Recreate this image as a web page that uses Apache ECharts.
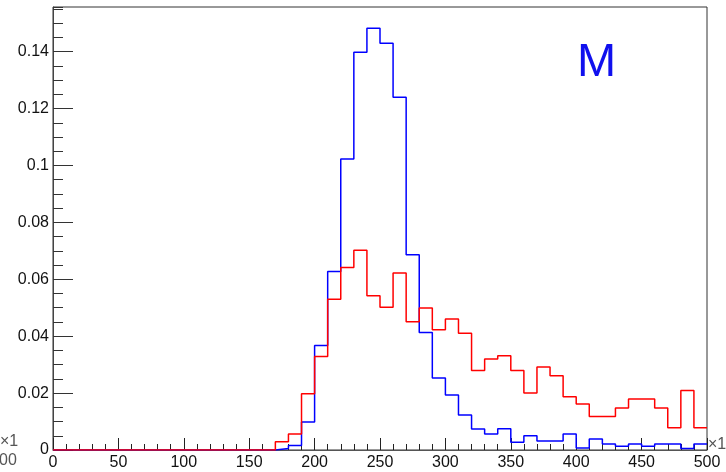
<!DOCTYPE html>
<html>
<head>
<meta charset="utf-8">
<script src="https://cdn.jsdelivr.net/npm/echarts@6/dist/echarts.min.js"></script>
<style>html,body{margin:0;padding:0;background:#fff}#c{width:726px;height:472px}</style>
</head>
<body>
<div id="c"></div>
<script>
// bin edges (x), 10-wide bins from 0 to 500
const binEdges = [0,10,20,30,40,50,60,70,80,90,100,110,120,130,140,150,160,170,180,190,200,
  210,220,230,240,250,260,270,280,290,300,310,320,330,340,350,360,370,380,390,400,
  410,420,430,440,450,460,470,480,490,500];
// blue histogram contents, one per bin
const blueValues = [0,0,0,0,0,0,0,0,0,0,0,0,0,0,0,0,0,
  0.0005,0.0016,0.0098,0.0367,0.0627,0.1023,0.1398,0.1482,0.1430,0.1240,
  0.0686,0.0413,0.0253,0.0193,0.0123,0.0074,0.0056,0.0075,0.0027,0.0050,
  0.0032,0.0032,0.0056,0.0007,0.0039,0.0021,0.0013,0.0021,0.0013,0.0021,
  0.0021,0.0005,0.0021];
// red histogram contents, one per bin
const redValues = [0,0,0,0,0,0,0,0,0,0,0,0,0,0,0,0,0,
  0.0029,0.0056,0.0198,0.0329,0.0530,0.0641,0.0702,0.0542,0.0502,0.0622,
  0.0451,0.0499,0.0423,0.0460,0.0410,0.0279,0.0320,0.0331,0.0279,0.0200,
  0.0292,0.0261,0.0187,0.0162,0.0118,0.0118,0.0148,0.0179,0.0179,0.0148,
  0.0078,0.0209,0.0078];
const panelLabel = 'M';

function stepData(vals) {
  return binEdges.map((e, i) => [e, vals[Math.min(i, vals.length - 1)]]);
}

const chart = echarts.init(document.getElementById('c'), null, {renderer: 'canvas'});
const axisColor = '#444';
const labelFont = {fontFamily: 'Liberation Sans, Arial, sans-serif', fontSize: 16, color: '#111'};
const YMAX = 0.1557;
chart.setOption({
  animation: false,
  backgroundColor: '#fff',
  grid: {left: 53, right: 19, top: 7, bottom: 22, show: true, borderColor: '#333', borderWidth: 1,
         backgroundColor: 'transparent', containLabel: false, outerBoundsMode: 'none'},
  xAxis: {
    type: 'value', min: 0, max: 500, interval: 50,
    axisLine: {show: true, lineStyle: {color: '#555', width: 1}},
    axisTick: {show: true, inside: true, length: 12, lineStyle: {color: '#222'}},
    minorTick: {show: true, splitNumber: 5, length: 6, lineStyle: {color: '#222'}},
    splitLine: {show: false},
    axisLabel: Object.assign({margin: 5}, labelFont)
  },
  yAxis: [{
    type: 'value', min: 0, max: YMAX, interval: 0.02, position: 'left',
    axisLine: {show: true, lineStyle: {color: axisColor, width: 1}},
    axisTick: {show: true, inside: true, length: 20, lineStyle: {color: '#333'}},
    splitLine: {show: false},
    axisLabel: Object.assign({margin: 4, showMaxLabel: false}, labelFont)
  }, {
    type: 'value', min: 0, max: YMAX, interval: 0.005, position: 'left', offset: 0,
    axisLine: {show: false},
    axisTick: {show: true, inside: true, length: 10, lineStyle: {color: '#333'}},
    splitLine: {show: false},
    axisLabel: {show: false}
  }],
  series: [{
    type: 'line', step: 'end', showSymbol: false, yAxisIndex: 0,
    data: stepData(blueValues),
    lineStyle: {color: '#0000ff', width: 1.5},
    itemStyle: {color: '#0000ff'}
  }, {
    type: 'line', step: 'end', showSymbol: false, yAxisIndex: 0,
    data: stepData(redValues),
    lineStyle: {color: '#ff0000', width: 1.5},
    itemStyle: {color: '#ff0000'}
  }],
  graphic: [
    {type: 'text', left: 577, top: 40, style: {text: panelLabel, fill: '#1010ee',
      font: '47px "Liberation Sans", Arial, sans-serif'}},
    {type: 'text', left: 708, top: 437, style: {text: '×1', fill: '#555',
      font: '16px "Liberation Sans", Arial, sans-serif'}},
    {type: 'text', left: 0, top: 434, style: {text: '×1', fill: '#555',
      font: '16px "Liberation Sans", Arial, sans-serif'}},
    {type: 'text', left: -1, top: 453, style: {text: '00', fill: '#555',
      font: '16px "Liberation Sans", Arial, sans-serif'}}
  ]
});
</script>
</body>
</html>
